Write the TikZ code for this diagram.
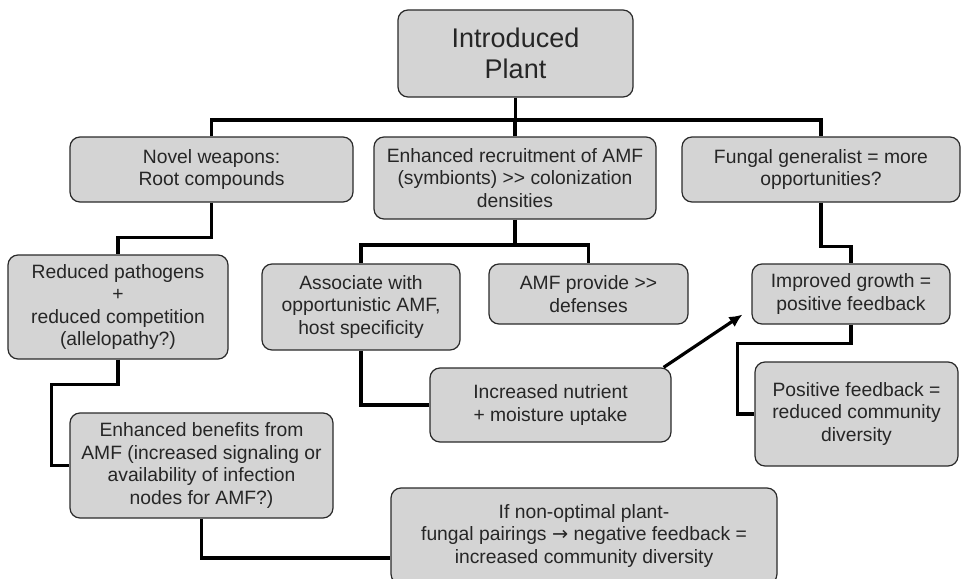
\documentclass[tikz,border=0pt]{standalone}
\usepackage{fontspec}
\setmainfont{Liberation Sans}
\newfontfamily\arrowfont{DejaVu Sans}
\usetikzlibrary{arrows.meta}
\definecolor{boxfill}{HTML}{D4D4D4}
\definecolor{boxline}{HTML}{2A2A2A}
\definecolor{txt}{HTML}{262626}
\tikzset{
  box/.style={draw=boxline, line width=1.2pt, fill=boxfill, rounded corners=10pt,
    align=center, inner sep=0pt, text=txt,
    font=\fontsize{19.3}{22.5}\selectfont},
  bigbox/.style={box, font=\fontsize{27}{31.5}\selectfont},
  conn/.style={line width=3.6pt, draw=black, line cap=butt, line join=miter},
  arr/.style={line width=3.2pt, draw=black, -{Latex[length=13pt,width=12pt]}}
}
\newcommand{\bx}[5]{\node[box, minimum width=#3pt, minimum height=#4pt] (#1) at #2 {#5};}
\begin{document}
\begin{tikzpicture}[x=1pt, y=-1pt]
\useasboundingbox (0,0) rectangle (963,578);
\fill[white] (0,0) rectangle (963,578);

\coordinate (busL) at (211.5,120);
\coordinate (busR) at (821,120);

\node[bigbox, minimum width=235pt, minimum height=87pt] (plant) at (515.5,53.5) {Introduced\\Plant};
\bx{novel}{(211.5,169.5)}{283}{65}{Novel weapons:\\Root compounds}
\bx{recruit}{(515,178)}{282}{82}{Enhanced recruitment of AMF\\(symbionts) >{}> colonization\\densities}
\bx{fungal}{(821,169.5)}{278}{65}{Fungal generalist = more\\opportunities?}
\bx{reduced}{(118,307)}{220}{104}{Reduced pathogens\\+\\reduced competition\\(allelopathy?)}
\bx{assoc}{(361,307)}{198}{86}{Associate with\\opportunistic AMF,\\host specificity}
\bx{amfprov}{(588.5,294)}{199}{60}{AMF provide >{}>\\defenses}
\bx{improved}{(851,294)}{198}{60}{Improved growth =\\positive feedback}
\bx{nutrient}{(550.5,405)}{241}{74}{Increased nutrient\\+ moisture uptake}
\bx{posfb}{(856.5,414)}{203}{104}{Positive feedback =\\reduced community\\diversity}
\bx{benefits}{(201.5,465.5)}{263}{105}{Enhanced benefits from\\AMF (increased signaling or\\availability of infection\\nodes for AMF?)}
\bx{ifnon}{(584,536)}{386}{96}{If non-optimal plant-\\fungal pairings {\arrowfont →} negative feedback =\\increased community diversity}

% tree bus
\draw[conn] (novel.north) -- (busL) -- (busR) -- (fungal.north);
\draw[conn] (plant.south) -- (plant.south |- busL);
\draw[conn] (recruit.north) -- (recruit.north |- busL);

% left branch
\draw[conn] (novel.south) -- ++(0,35) -| (reduced.north);
\draw[conn] (reduced.south) -- ++(0,25) -| ([xshift=-18pt]benefits.west) -- (benefits.west);
\draw[conn] (benefits.south) |- (ifnon.west |- 0,558);

% middle branch
\coordinate (midbus) at (0,245);
\draw[conn] (recruit.south) -- (recruit.south |- midbus);
\draw[conn] (assoc.north) -- (assoc.north |- midbus) -- (amfprov.north |- midbus) -- (amfprov.north);
\draw[conn] (assoc.south) |- (nutrient.west);

% arrow
\draw[arr] ([xshift=-8pt]nutrient.north east) -- ([xshift=-9pt,yshift=10pt]improved.south west);

% right branch
\draw[conn] (fungal.south) -- ++(0,44) -| (improved.north);
\draw[conn] (improved.south) -- ++(0,19) -| ([xshift=-17pt]posfb.west) -- (posfb.west);
\end{tikzpicture}
\end{document}
